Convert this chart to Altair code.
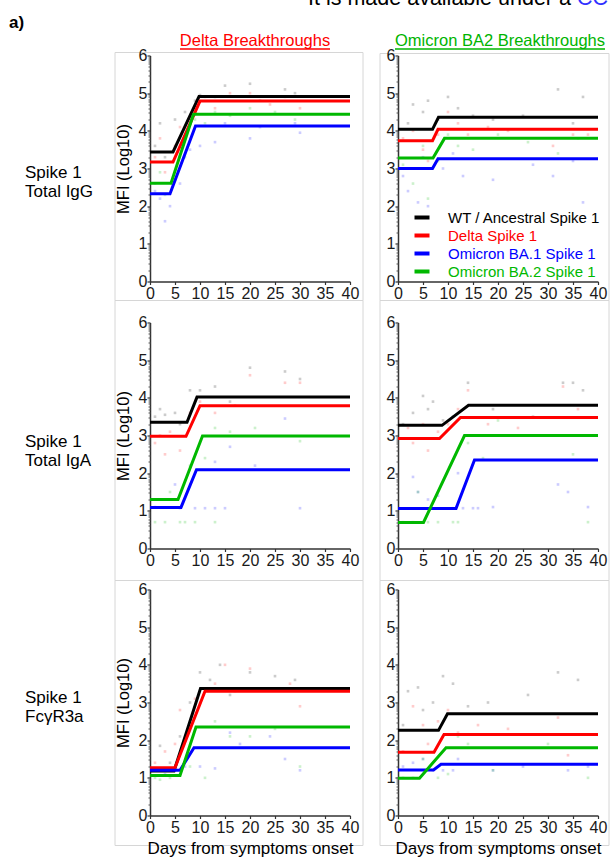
import math
import altair as alt
import pandas as pd

# ---------------- data ----------------
SERIES = ["WT / Ancestral Spike 1", "Delta Spike 1", "Omicron BA.1 Spike 1", "Omicron BA.2 Spike 1"]
KEYS = ["WT", "Delta", "BA1", "BA2"]
COLORS = ["#000000", "#ff0000", "#0000ff", "#00b800"]
DAY_TICKS = [0, 5, 10, 15, 20, 25, 30, 35, 40]
MFI_TICKS = [0, 1, 2, 3, 4, 5, 6]
ROW_LABELS = ["Spike 1\nTotal IgG", "Spike 1\nTotal IgA", "Spike 1\nFcγR3a"]
COL_TITLES = ["Delta Breakthroughs", "Omicron BA2 Breakthroughs"]
X_TITLE = "Days from symptoms onset"
Y_TITLE = "MFI (Log10)"

# fitted curves: (baseline, day rise starts, day plateau reached, plateau)
fit_igg_delta = {"WT": (3.44, 4.6, 9.8, 4.91), "Delta": (3.17, 4.6, 10.0, 4.79),
                 "BA1": (2.33, 4.0, 9.1, 4.13), "BA2": (2.61, 4.2, 8.7, 4.44)}
fit_igg_omi = {"WT": (4.04, 6.9, 8.1, 4.36), "Delta": (3.74, 6.9, 8.0, 4.04),
               "BA1": (3.00, 6.9, 8.0, 3.26), "BA2": (3.28, 7.0, 9.3, 3.80)}
fit_iga_delta = {"WT": (3.35, 7.4, 9.4, 4.02), "Delta": (2.98, 7.2, 10.0, 3.79),
                 "BA1": (1.09, 6.2, 9.3, 2.09), "BA2": (1.30, 5.6, 10.5, 2.99)}
fit_iga_omi = {"WT": (3.27, 8.8, 14.1, 3.80), "Delta": (2.92, 8.3, 12.5, 3.48),
               "BA1": (1.06, 11.6, 15.3, 2.35), "BA2": (0.69, 5.1, 13.3, 3.00)}
fit_fcr_delta = {"WT": (1.18, 4.8, 10.1, 3.37), "Delta": (1.27, 5.0, 11.0, 3.30),
                 "BA1": (1.20, 6.0, 8.8, 1.80), "BA2": (1.06, 6.0, 9.2, 2.35)}
fit_fcr_omi = {"WT": (2.26, 8.1, 9.9, 2.70), "Delta": (1.68, 7.2, 9.2, 2.15),
               "BA1": (1.21, 7.1, 8.6, 1.36), "BA2": (0.99, 4.3, 9.6, 1.80)}

# individual samples (day, log10 MFI)
pts_igg_delta = {
    "WT": [(1, 3.6), (2, 4.2), (3, 3.3), (5, 4.3), (7, 4.5), (9, 4.8), (10, 4.95), (13, 4.9), (15, 5.2), (20, 5.25), (22, 4.8), (27, 5.1), (29, 5.0)],
    "Delta": [(1, 3.3), (2, 3.8), (3, 2.9), (5, 3.6), (6, 4.1), (9, 4.6), (11, 4.9), (13, 4.6), (16, 5.0), (20, 5.0), (24, 4.7), (27, 4.9), (30, 4.6)],
    "BA1": [(1, 2.4), (2, 2.2), (3, 1.6), (4, 2.0), (6, 2.6), (8, 3.5), (10, 3.6), (13, 3.7), (15, 4.2), (20, 3.8), (22, 4.1), (29, 4.2), (30, 3.95)],
    "BA2": [(1, 2.6), (2, 2.9), (3, 2.3), (5, 2.7), (7, 3.3), (9, 4.3), (11, 4.2), (13, 4.5), (16, 4.4), (20, 4.6), (25, 4.5), (29, 4.3)],
}
pts_igg_omi = {
    "WT": [(2, 4.2), (3, 4.7), (5, 4.5), (6, 4.8), (8, 4.3), (10, 4.9), (12, 4.6), (15, 4.4), (19, 4.3), (25, 4.4), (32, 5.1), (35, 4.2), (37, 4.9)],
    "Delta": [(1, 3.8), (3, 4.0), (5, 3.5), (6, 3.2), (8, 3.9), (10, 4.5), (12, 4.2), (14, 3.9), (18, 4.1), (22, 4.0), (31, 3.6), (35, 3.9), (38, 3.9)],
    "BA1": [(1, 2.8), (2, 2.4), (4, 2.1), (5, 3.3), (6, 2.0), (9, 3.0), (11, 3.4), (13, 2.8), (19, 2.7), (27, 3.1), (31, 2.8), (35, 3.2), (37, 2.1)],
    "BA2": [(1, 3.1), (3, 2.6), (5, 3.6), (6, 2.2), (8, 3.2), (10, 3.9), (12, 3.6), (15, 3.5), (20, 3.9), (26, 3.7), (32, 3.4), (36, 3.8)],
}
pts_iga_delta = {
    "WT": [(1, 3.5), (2, 3.7), (3, 3.55), (5, 3.6), (6, 3.3), (8, 4.2), (10, 4.2), (13, 4.3), (16, 3.9), (20, 4.8), (27, 4.7), (30, 4.5)],
    "Delta": [(1, 2.8), (2, 3.0), (3, 2.5), (4, 3.1), (6, 2.6), (8, 3.6), (10, 3.9), (13, 3.6), (17, 3.8), (20, 4.6), (27, 4.4), (30, 4.4)],
    "BA1": [(1, 1.1), (3, 1.3), (5, 1.7), (6, 1.07), (9, 1.07), (11, 1.07), (13, 1.07), (15, 1.07), (13, 2.3), (16, 2.7), (21, 2.2), (27, 3.45), (30, 1.07)],
    "BA2": [(1, 0.7), (3, 0.7), (4, 1.5), (6, 0.7), (7, 0.7), (9, 0.7), (13, 0.7), (8, 2.2), (11, 2.4), (13, 3.2), (16, 3.1), (21, 3.2), (30, 2.85)],
}
pts_iga_omi = {
    "WT": [(1, 3.3), (3, 3.6), (5, 4.05), (6, 3.7), (7, 3.9), (9, 3.4), (11, 3.5), (14, 4.4), (19, 3.7), (27, 3.5), (33, 4.4), (35, 4.4), (37, 4.2)],
    "Delta": [(2, 3.2), (3, 2.8), (5, 3.3), (6, 2.6), (8, 3.1), (10, 3.3), (12, 3.7), (14, 4.2), (18, 3.3), (24, 3.2), (33, 4.3), (36, 3.7)],
    "BA1": [(3, 1.9), (4, 1.5), (6, 1.3), (8, 1.4), (11, 1.07), (12, 2.0), (13, 1.07), (15, 1.07), (16, 1.07), (19, 1.1), (32, 1.7), (34, 1.5), (38, 1.1)],
    "BA2": [(1, 0.7), (3, 0.7), (4, 1.5), (6, 0.7), (8, 0.7), (11, 0.7), (12, 0.7), (14, 2.8), (17, 2.4), (20, 3.4), (30, 3.0), (35, 2.5), (38, 0.7)],
}
pts_fcr_delta = {
    "WT": [(1, 1.2), (2, 1.85), (4, 1.4), (6, 2.1), (8, 3.0), (10, 3.8), (12, 3.6), (14, 4.0), (16, 3.2), (20, 3.8), (25, 3.7), (29, 3.6)],
    "Delta": [(1, 1.4), (3, 1.7), (5, 1.9), (6, 2.8), (9, 3.1), (10, 3.0), (13, 3.5), (15, 4.0), (17, 3.3), (20, 3.9), (28, 3.5), (30, 2.9)],
    "BA1": [(1, 1.2), (3, 1.1), (5, 1.2), (7, 1.3), (10, 1.3), (13, 1.25), (16, 2.2), (18, 1.9), (24, 2.1), (27, 1.5), (30, 1.2)],
    "BA2": [(1, 1.0), (2, 0.95), (4, 1.0), (6, 1.1), (8, 1.3), (11, 1.0), (13, 2.5), (16, 2.1), (20, 2.1), (25, 2.3), (30, 1.3)],
}
pts_fcr_omi = {
    "WT": [(1, 2.4), (2, 3.3), (4, 3.4), (5, 2.8), (7, 3.0), (9, 3.7), (11, 3.5), (14, 2.9), (18, 3.0), (26, 3.2), (32, 3.8), (36, 3.6)],
    "Delta": [(1, 1.7), (3, 2.9), (5, 2.4), (6, 1.9), (8, 2.5), (10, 2.8), (12, 2.2), (16, 2.4), (22, 2.3), (32, 2.6), (34, 1.6)],
    "BA1": [(1, 1.3), (3, 1.4), (5, 1.5), (7, 1.2), (9, 1.2), (11, 1.2), (12, 1.5), (19, 1.2), (25, 1.3), (34, 1.2), (38, 1.3)],
    "BA2": [(1, 1.0), (3, 1.0), (5, 1.5), (8, 1.0), (10, 1.1), (12, 2.1), (14, 1.9), (19, 1.2), (30, 1.9), (38, 1.0)],
}

# minor ticks of the log10 axis
MINOR_TICKS = [round(n + math.log10(k), 4) for n in range(6) for k in range(2, 10)]

FONT = "Liberation Sans"
dummy = pd.DataFrame({"a": [0]})
COLOR_OF = dict(zip(SERIES, COLORS))

label_color_expr = ("datum.value == '" + SERIES[1] + "' ? '" + COLORS[1] + "' : "
                    "datum.value == '" + SERIES[2] + "' ? '" + COLORS[2] + "' : "
                    "datum.value == '" + SERIES[3] + "' ? '" + COLORS[3] + "' : '" + COLORS[0] + "'")

legend_def = alt.Legend(title=None, orient="none", legendX=412.5, legendY=207.5,
                        symbolType="stroke", symbolSize=225, symbolStrokeWidth=4,
                        labelFontSize=15, labelFont=FONT, labelOffset=16.5,
                        rowPadding=-1, padding=0, labelColor={"expr": label_color_expr})


def x_axis(show_title):
    kw = dict(values=DAY_TICKS, labelFontSize=16, labelFont=FONT, tickSize=3, labelPadding=1,
              domainColor="#333333", domainWidth=1.5, tickColor="#333333", tickWidth=1.2,
              labelColor="#1a1a1a", grid=False, labelFlush=False)
    if show_title:
        kw.update(title=X_TITLE, titleFontSize=17, titleFont=FONT, titleFontWeight="normal",
                  titleColor="#000000", titlePadding=5)
    else:
        kw.update(title=None)
    return alt.Axis(**kw)


def y_axis(show_title):
    kw = dict(values=MFI_TICKS, labelFontSize=16, labelFont=FONT, tickSize=3, labelPadding=0,
              domainColor="#333333", domainWidth=1.5, tickColor="#333333", tickWidth=1.2,
              labelColor="#1a1a1a", grid=False, orient="left")
    if show_title:
        kw.update(title=Y_TITLE, titleFontSize=16.5, titleFont=FONT, titleFontWeight="normal",
                  titleColor="#000000", titlePadding=7)
    else:
        kw.update(title=None)
    return alt.Axis(**kw)


minor_axis = alt.Axis(values=MINOR_TICKS, orient="left", labels=False, domain=False,
                      tickSize=2, tickColor="#555555", tickWidth=1, grid=False, title=None)


def panel(fit, pts, ytitle, xtitle):
    line_rows, pt_rows = [], []
    for k, s in zip(KEYS, SERIES):
        b, t1, t2, p = fit[k]
        for d, v in zip([0, t1, t2, 40], [b, b, p, p]):
            line_rows.append({"series": s, "day": d, "mfi": v})
        for d, v in pts[k]:
            pt_rows.append({"series": s, "day": d, "mfi": v, "hex": COLOR_OF[s]})
    line_df = pd.DataFrame(line_rows)
    pt_df = pd.DataFrame(pt_rows)
    xs = alt.Scale(domain=[0, 40], nice=False)
    ys = alt.Scale(domain=[0, 6], nice=False)
    cs = alt.Scale(domain=SERIES, range=COLORS)
    dots = alt.Chart(pt_df).mark_square(size=7, opacity=0.2, filled=True).encode(
        x=alt.X("day:Q", scale=xs, axis=x_axis(xtitle)),
        y=alt.Y("mfi:Q", scale=ys, axis=y_axis(ytitle)),
        fill=alt.Fill("hex:N", scale=None),
    )
    lines = alt.Chart(line_df).mark_line(strokeWidth=3).encode(
        x=alt.X("day:Q", scale=xs, axis=x_axis(xtitle)),
        y=alt.Y("mfi:Q", scale=ys, axis=minor_axis),
        color=alt.Color("series:N", scale=cs, legend=legend_def),
    )
    return alt.layer(dots, lines).resolve_axis(y="independent").properties(width=200, height=226)


def row_label(text, y):
    return alt.Chart(dummy).mark_text(align="left", baseline="alphabetic", fontSize=17, font=FONT,
                                      lineBreak="\n", lineHeight=19, color="#000000").encode(
        x=alt.value(25), y=alt.value(y), text=alt.value(text)
    ).properties(width=102, height=226)


def txt(text, x, y, size, color="#000000", align="left", weight="normal"):
    return alt.Chart(dummy).mark_text(align=align, baseline="alphabetic", fontSize=size, font=FONT,
                                      fontWeight=weight, color=color).encode(
        x=alt.value(x), y=alt.value(y), text=alt.value(text))


def hrule(x1, x2, y, color, w):
    return alt.Chart(dummy).mark_rule(color=color, strokeWidth=w).encode(
        x=alt.value(x1), x2=alt.value(x2), y=alt.value(y), y2=alt.value(y))


def box(x1, x2, y1, y2):
    return alt.Chart(dummy).mark_rect(fillOpacity=0, stroke="#d6d6d6", strokeWidth=1).encode(
        x=alt.value(x1), x2=alt.value(x2), y=alt.value(y1), y2=alt.value(y2))


def empty(w, h):
    return alt.Chart(dummy).mark_point(opacity=0).encode(
        x=alt.value(0), y=alt.value(0)).properties(width=w, height=h)


# header strip (top-left grid cell; page coordinates)
strip = alt.layer(
    box(115, 363, 52, 300), box(380, 609, 53, 300),
    box(115, 363, 300, 580), box(380, 609, 300, 580),
    box(115, 363, 580, 845), box(380, 609, 580, 845),
    txt("It is made available under a ", 308, 4.5, 21.5),
    txt("CC", 577, 4.5, 21.5, color="#3030ff"),
    txt("a)", 9, 27, 17, weight="bold"),
    txt(COL_TITLES[0], 255, 45, 16.5, color="#ff0000", align="center"),
    hrule(180, 330, 48.5, "#ff0000", 1.3),
    txt(COL_TITLES[1], 500, 45, 16.5, color="#00b400", align="center"),
    hrule(395, 605, 48.5, "#00b400", 1.3),
).properties(width=102, height=14)

cells = [
    strip, empty(200, 14), empty(200, 14),
    row_label(ROW_LABELS[0], 122),
    panel(fit_igg_delta, pts_igg_delta, True, False),
    panel(fit_igg_omi, pts_igg_omi, False, False),
    row_label(ROW_LABELS[1], 124),
    panel(fit_iga_delta, pts_iga_delta, True, False),
    panel(fit_iga_omi, pts_iga_omi, False, False),
    row_label(ROW_LABELS[2], 113),
    panel(fit_fcr_delta, pts_fcr_delta, True, True),
    panel(fit_fcr_omi, pts_fcr_omi, False, True),
]

chart = alt.concat(*cells, columns=3, spacing={"row": 41, "column": 48}, bounds="flush").properties(
    padding={"top": -12.5, "left": 0, "right": 0, "bottom": 0}, background="#ffffff"
).configure(font=FONT).configure_view(stroke=None)

chart.save("out.html", embed_options={"renderer": "svg", "actions": False})
